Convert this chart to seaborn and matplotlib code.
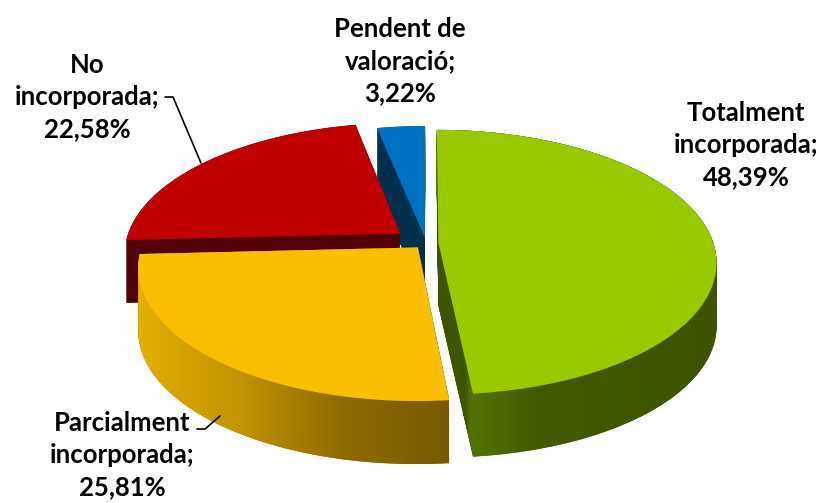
import numpy as np
import matplotlib
matplotlib.use("Agg")
import matplotlib.pyplot as plt
import seaborn as sns
from matplotlib.patches import Wedge, Polygon
from matplotlib.path import Path
from matplotlib.transforms import Transform
from matplotlib.colors import LinearSegmentedColormap

# data
categories = ["Totalment\nincorporada", "Parcialment\nincorporada",
              "No\nincorporada", "Pendent de\nvaloració"]
values = [48.39, 25.81, 22.58, 3.22]
pct_text = ["48,39%", "25,81%", "22,58%", "3,22%"]

top_colors = ["#99CA00", "#FAC000", "#C00000", "#0070C0"]
side_colors = ["#3F5500", "#A27A00", "#500000", "#00304E"]
# shaded walls (left -> right)
side_grad = {0: [(0, "#3D5300"), (0.1, "#3F5600"), (0.12, "#537400"),
                 (0.35, "#425A00"), (1, "#3D5300")],
             1: [(0, "#E3AF00"), (0.33, "#C29300"), (0.66, "#8E6B00"), (1, "#785A00")]}
explode = [0.045, 0.045, 0.12, 0.04]


class Tilt(Transform):
    """cheap perspective of a pie lying on a table, dz pushes it down"""
    input_dims = 2
    output_dims = 2

    def __init__(self, k=0.147, dz=0.0):
        super().__init__()
        self.k = k
        self.dz = dz

    def transform_non_affine(self, xy):
        xy = np.asarray(xy, dtype=float)
        w = 1 + self.k * xy[:, 1]
        return np.column_stack([xy[:, 0] / w, xy[:, 1] / w - self.dz])

    def transform_path_non_affine(self, path):
        pts = []
        for seg, code in path.iter_bezier():
            if code == Path.MOVETO:
                continue
            pts.append(seg(np.linspace(0, 1, 16)))
        v = np.concatenate(pts)
        return Path(self.transform_non_affine(v), closed=True)


def hull(pts):
    pts = sorted(set(map(tuple, np.round(pts, 6))))

    def cross(o, a, b):
        return (a[0] - o[0]) * (b[1] - o[1]) - (a[1] - o[1]) * (b[0] - o[0])
    lo, up = [], []
    for p in pts:
        while len(lo) >= 2 and cross(lo[-2], lo[-1], p) <= 0:
            lo.pop()
        lo.append(p)
    for p in reversed(pts):
        while len(up) >= 2 and cross(up[-2], up[-1], p) <= 0:
            up.pop()
        up.append(p)
    return np.array(lo[:-1] + up[:-1])


sns.set_theme(style="white")
plt.rcParams['font.family'] = ['Lato', 'DejaVu Sans']

fig = plt.figure(figsize=(8.27, 5.03), dpi=100)
ax = fig.add_axes([0, 0, 1, 1])

wedges, _ = ax.pie(values, explode=explode, colors=top_colors, startangle=90,
                   counterclock=False, wedgeprops=dict(linewidth=0))

depth = 0.486
for w in wedges:
    w.set_transform(Tilt() + ax.transData)
    w.set_zorder(10)

# side walls: stack copies of each wedge downwards
for i in [3, 2, 1, 0]:
    w = wedges[i]
    for d in np.linspace(depth, 0, 60):
        s = Wedge(w.center, w.r, w.theta1, w.theta2, facecolor=side_colors[i],
                  linewidth=0, zorder=5)
        s.set_transform(Tilt(dz=d) + ax.transData)
        ax.add_patch(s)

# horizontal shading on the two front walls
for i, cols in side_grad.items():
    top = Tilt().transform_path_non_affine(wedges[i].get_path()).vertices
    hp = hull(np.vstack([top, top - [0, depth]]))
    clip = Polygon(hp, closed=True, transform=ax.transData)
    img = ax.imshow(np.linspace(0, 1, 256)[None, :],
                    cmap=LinearSegmentedColormap.from_list('wall%d' % i, cols),
                    extent=(hp[:, 0].min(), hp[:, 0].max(), hp[:, 1].min(), hp[:, 1].max()),
                    aspect='auto', interpolation='bilinear', zorder=6)
    img.set_clip_path(clip)

ax.set_aspect('auto')
ax.set_xlim(-1.549, 1.458)
ax.set_ylim(-2.006, 1.875)
ax.axis('off')

# labels
W, H = 827, 503
label_pos = [(746, 145), (122, 455), (87, 97), (400, 61)]
for cat, pct, (px, py) in zip(categories, pct_text, label_pos):
    fig.text(px / W, 1 - py / H, cat + ";\n" + pct, ha='center', va='center',
             fontsize=18.5, fontweight='bold', color='black', linespacing=1.42)

# leader lines
for xs, ys in [([165, 173, 201], [97, 97, 163]), ([197, 205, 220], [429, 429, 416])]:
    ax.plot(np.array(xs) / W, 1 - np.array(ys) / H, color='black', lw=1.2,
            transform=fig.transFigure, zorder=20)

fig.savefig("out.png", dpi=100, facecolor='white')
